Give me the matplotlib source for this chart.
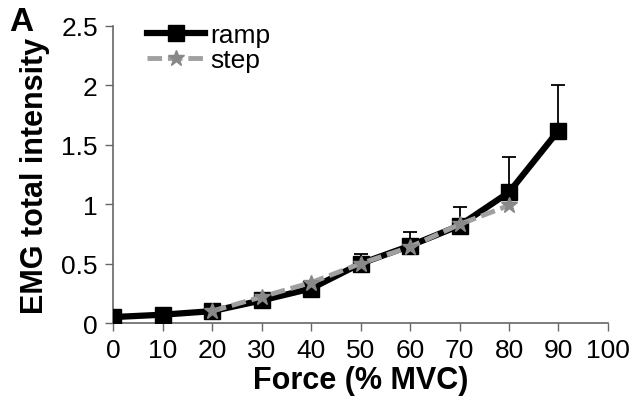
import matplotlib
matplotlib.use("Agg")
import matplotlib.pyplot as plt
import numpy as np

plt.rcParams['font.family'] = ['Liberation Sans', 'DejaVu Sans']

force = [0, 10, 20, 30, 40, 50, 60, 70, 80, 90]
ramp = [0.05, 0.07, 0.10, 0.19, 0.29, 0.50, 0.65, 0.82, 1.10, 1.62]
ramp_err = [0.0, 0.0, 0.0, 0.02, 0.03, 0.08, 0.12, 0.16, 0.30, 0.38]

step_force = [20, 30, 40, 50, 60, 70, 80]
step = [0.10, 0.22, 0.34, 0.50, 0.64, 0.83, 0.99]

fig = plt.figure(figsize=(6.32, 4.02), dpi=100)
ax = fig.add_axes([0.179, 0.194, 0.783, 0.739])

# upper error bars only
ax.errorbar(force, ramp, yerr=[np.zeros(len(ramp_err)), ramp_err], fmt='none',
            ecolor='black', elinewidth=1.3, capsize=5, capthick=1.3, zorder=2)
ax.plot(force, ramp, color='black', lw=4.5, marker='s', ms=11, label='ramp', zorder=3)
ax.plot(step_force, step, color='#a0a0a0', lw=3.5, ls=(0, (3, 1.2)), marker='*',
        ms=12, mfc='#888888', mec='#888888', label='step', zorder=4)

ax.set_xlim(0, 100)
ax.set_ylim(0, 2.5)
ax.set_xticks(np.arange(0, 101, 10))
ax.set_yticks([0, 0.5, 1, 1.5, 2, 2.5])
ax.set_yticklabels(['0', '0.5', '1', '1.5', '2', '2.5'])
ax.tick_params(labelsize=19, color='#666666', length=6, width=1, direction='out', pad=5)
for s in ['top', 'right']:
    ax.spines[s].set_visible(False)
for s in ['left', 'bottom']:
    ax.spines[s].set_color('#666666')
    ax.spines[s].set_linewidth(1.2)
ax.set_xlabel('Force (% MVC)', fontsize=22, fontweight='bold', labelpad=2)
ax.set_ylabel('EMG total intensity', fontsize=22, fontweight='bold', labelpad=8)

ax.legend(loc='upper left', bbox_to_anchor=(0.02, 1.09), frameon=False, fontsize=19,
          handlelength=2.2, handletextpad=0.2, labelspacing=0.05)

fig.text(0.015, 0.922, 'A', fontsize=24, fontweight='bold')

plt.savefig('out.png', dpi=100)
